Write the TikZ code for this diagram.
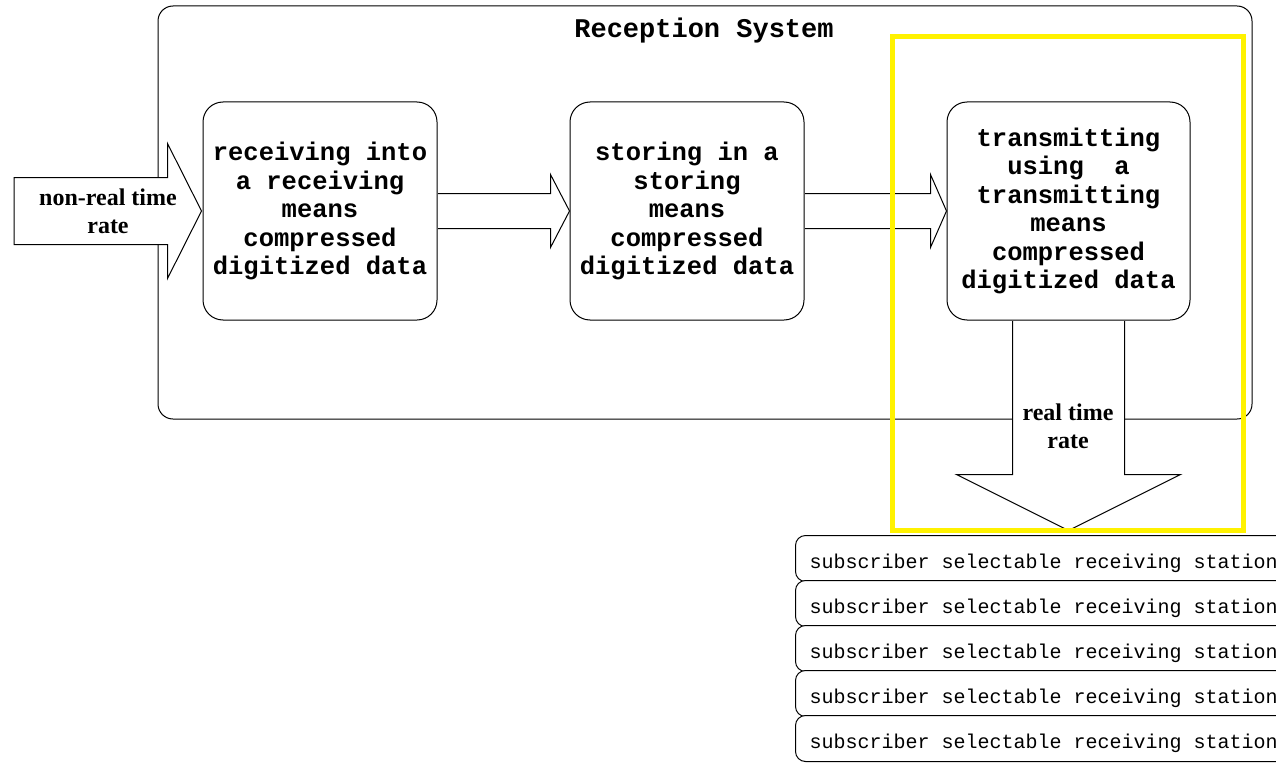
\documentclass[tikz,border=0pt]{standalone}
\usepackage{fontspec}
\setmainfont{Liberation Serif}
\setmonofont{Liberation Mono}
\usetikzlibrary{calc}
\begin{document}
\begin{tikzpicture}[
x=1pt, y=-1pt,
line width=1pt
]

\tikzstyle{sys} = [draw, rounded corners=15pt, minimum width=1094pt, minimum height=413pt]
\tikzstyle{b} = [draw, fill=white, rounded corners=20pt, minimum height=218pt, inner sep=0pt, align=center, font=\ttfamily\bfseries\fontsize{25.5}{28.5}\selectfont]
\tikzstyle{s} = [draw, fill=white, rounded corners=10pt, minimum height=46pt, inner xsep=14pt, inner ysep=0pt, text height=19pt, text depth=0pt, anchor=west, font=\ttfamily\fontsize{20}{22}\selectfont]
\tikzstyle{ar} = [draw, fill=white, line join=miter]
\tikzstyle{lbl} = [align=center, font=\bfseries\fontsize{24}{28}\selectfont]

\useasboundingbox (0,0) rectangle (1276,765);

% reception system
\node[sys] (sys) at (705,212.5) {};
\node[font=\ttfamily\bfseries\fontsize{27}{30}\selectfont] (ttl) at (704,31) {Reception System};

\node[b, minimum width=234pt] (b1) at (320,211) {receiving into\\a receiving\\means\\compressed\\digitized data};
\node[b, minimum width=234pt] (b2) at (687,211) {storing in a\\storing\\means\\compressed\\digitized data};
\node[b, minimum width=243pt] (b3) at (1068.5,211) {transmitting\\using\ \ a\\transmitting\\means\\compressed\\digitized data};

% fat arrows
\coordinate (src) at (14,211);
\coordinate (tip) at ($(b3.south)+(0,210)$);

\draw[ar] ($(src)+(0,-33.5)$) -- ($(b1.west)+(-35,-33.5)$) -- ($(b1.west)+(-35,-67.5)$) -- ($(b1.west)+(-1,0)$)
  -- ($(b1.west)+(-35,67.5)$) -- ($(b1.west)+(-35,33.5)$) -- ($(src)+(0,33.5)$) -- cycle;
\draw[ar] ($(b1.east)+(0.5,-17.5)$) -- ($(b2.west)+(-19,-17.5)$) -- ($(b2.west)+(-19,-36.5)$) -- (b2.west)
  -- ($(b2.west)+(-19,36.5)$) -- ($(b2.west)+(-19,17.5)$) -- ($(b1.east)+(0.5,17.5)$);
\draw[ar] ($(b2.east)+(0.5,-17.5)$) -- ($(b3.west)+(-16,-17.5)$) -- ($(b3.west)+(-16,-36.5)$) -- (b3.west)
  -- ($(b3.west)+(-16,36.5)$) -- ($(b3.west)+(-16,17.5)$) -- ($(b2.east)+(0.5,17.5)$);
\draw[ar] ($(b3.south)+(-56,0.5)$) -- ($(tip)+(-56,-56)$) -- ($(tip)+(-112,-56)$) -- (tip)
  -- ($(tip)+(112,-56)$) -- ($(tip)+(56,-56)$) -- ($(b3.south)+(56,0.5)$);

\node[lbl] (lin) at (108,211) {non-real time\\rate};
\node[lbl] (lout) at (1068,426) {real time\\rate};

% highlight
\draw[yellow, line width=5pt] (892,37) rectangle (1243,530);

% receiving stations
\node[s] (s1) at (795,558.5) {subscriber selectable receiving station};
\node[s] (s2) at (795,603.5) {subscriber selectable receiving station};
\node[s] (s3) at (795,648.5) {subscriber selectable receiving station};
\node[s] (s4) at (795,693.5) {subscriber selectable receiving station};
\node[s] (s5) at (795,738.5) {subscriber selectable receiving station};
\end{tikzpicture}
\end{document}
